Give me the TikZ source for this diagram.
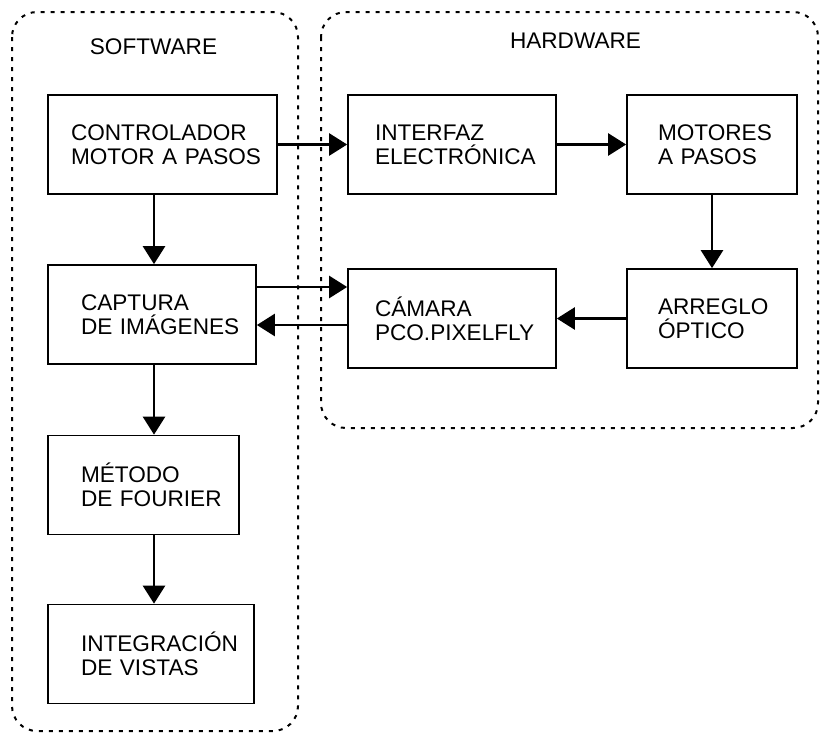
\documentclass[tikz,border=0pt]{standalone}
\usepackage{fontspec}
\setmainfont{Liberation Sans}
\usetikzlibrary{arrows.meta}
\hfuzz=200pt
\hbadness=10000
\hyphenpenalty=10000
\uchyph=0
\begin{document}
\begin{tikzpicture}[x=1pt,y=-1pt,
  every node/.style={font=\fontsize{22.6}{24}\selectfont},
  blk/.style n args={3}{draw, line width=1.7pt, minimum width=#1pt,
    minimum height=99pt, inner xsep=#2pt, inner ysep=0pt,
    text width=#3pt, align=left},
  flow/.style={line width=2.6pt, -{Triangle[length=18pt,width=22pt]}},
  group/.style={line width=2pt, dash pattern=on 4pt off 6pt,
    rounded corners=25pt},
]
\useasboundingbox[fill=white] (0,0) rectangle (821,734);

% software and hardware groups
\draw[group] (12,12) rectangle (298,731);
\draw[group] (321,12) rectangle (818,428);
\node (sw) at (153.5,46.5) {SOFTWARE};
\node (hw) at (575.5,40.5) {HARDWARE};

% blocks
\node[blk={229}{23}{183}] (ctrl)  at (162.5,144.5) {\mbox{CONTROLADOR}\\\mbox{MOTOR A PASOS}};
\node[blk={208}{27}{154}] (intf)  at (452,144.5)   {\mbox{INTERFAZ}\\\mbox{ELECTRÓNICA}};
\node[blk={170}{31}{108}] (mot)   at (712,144.5)   {\mbox{MOTORES}\\\mbox{A PASOS}};
\node[blk={208}{33}{142}] (capt)  at (152,314.5)   {\mbox{CAPTURA}\\\mbox{DE IMÁGENES}};
\node[blk={208}{27}{154}] (cam)   at (452,318.5)   {\mbox{CÁMARA}\\\mbox{PCO.PIXELFLY}};
\node[blk={170}{31}{108}] (arr)   at (712,318.5)   {\mbox{ARREGLO}\\\mbox{ÓPTICO}};
\node[blk={191}{33}{125}] (met)   at (143.5,485)   {\mbox{MÉTODO}\\\mbox{DE FOURIER}};
\node[blk={206}{33}{140}] (integ) at (151,654)     {\mbox{INTEGRACIÓN}\\\mbox{DE VISTAS}};

% helper coordinates for the connector positions
\coordinate (spine) at (154,0);
\coordinate (toCam) at (0,287);
\coordinate (toCapt) at (0,325);

% connectors
\draw[flow] (ctrl) -- (intf);
\draw[flow] (intf) -- (mot);
\draw[flow] (mot) -- (arr);
\draw[flow] (arr) -- (cam);
\draw[flow] (ctrl.south -| spine) -- (capt.north -| spine);
\draw[flow] (capt.south -| spine) -- (met.north -| spine);
\draw[flow] (met.south -| spine) -- (integ.north -| spine);
\draw[flow] (capt.east |- toCam) -- (cam.west |- toCam);
\draw[flow] (cam.west |- toCapt) -- (capt.east |- toCapt);
\end{tikzpicture}
\end{document}
